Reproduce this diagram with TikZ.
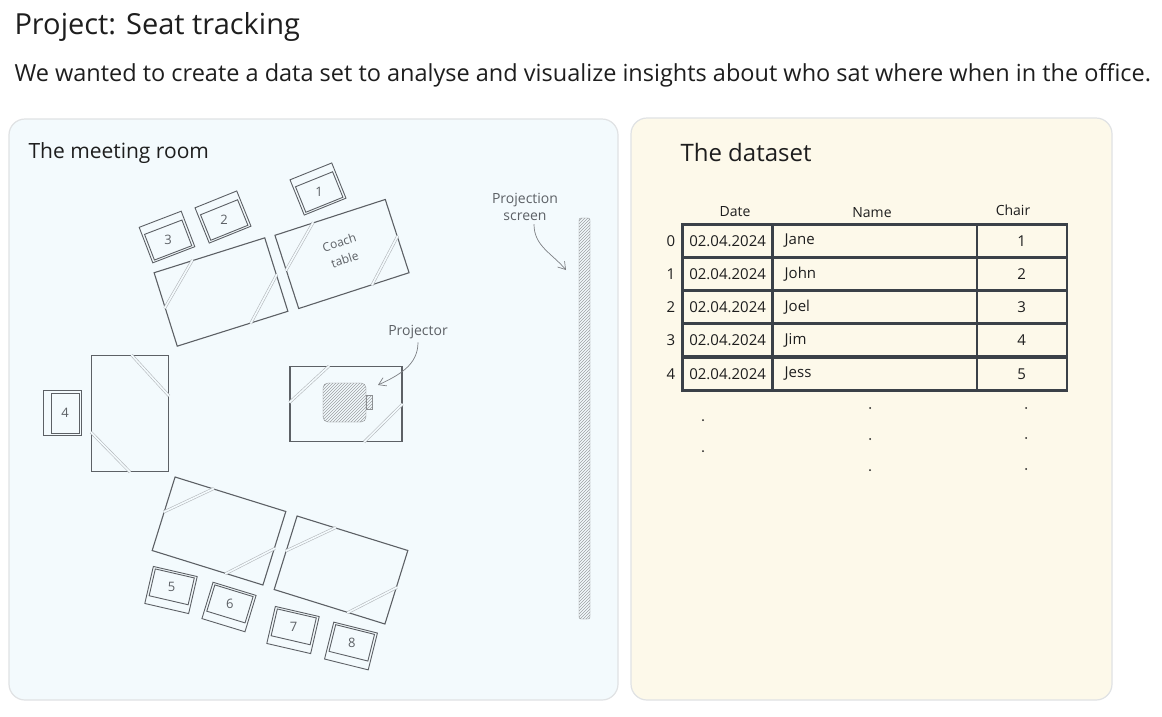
\documentclass[tikz,border=0pt]{standalone}
\usepackage{fontspec}
\setmainfont{Open Sans}
\usepackage{tikz}
\usetikzlibrary{shapes,arrows.meta,patterns,positioning,calc}
\definecolor{ink}{HTML}{1E1E1E}
\definecolor{pen}{HTML}{5C6065}
\definecolor{glass}{HTML}{B4B8BC}
\definecolor{roomfill}{HTML}{F3FAFD}
\definecolor{datafill}{HTML}{FDF9EA}
\definecolor{frame}{HTML}{E0E2E4}
\definecolor{grid}{HTML}{3B4148}

\begin{document}
\begin{tikzpicture}[x=1pt,y=-1pt]
	\tikzstyle{Panel}	= [draw=frame, line width=1.2pt, rounded corners=16pt]
	\tikzstyle{Table}	= [draw=pen, line width=1.1pt, minimum width=116pt, minimum height=77pt, inner sep=0pt]
	\tikzstyle{Glass}	= [draw=glass, double=roomfill, double distance=1.6pt, line width=0.6pt]
	\tikzstyle{Chair}	= [draw=pen, line width=0.9pt]
	\tikzstyle{Small}	= [font=\fontsize{14}{16}\selectfont, text=pen]
	\tikzstyle{Head}	= [font=\fontsize{21}{25}\selectfont, text=ink]
	\tikzstyle{Cell}	= [draw=grid, line width=2.4pt, minimum height=33pt, inner sep=0pt]
	\tikzstyle{Entry}	= [font=\fontsize{15}{17}\selectfont, text=ink]
	\tikzstyle{Hatch}	= [draw=pen!70, pattern=north east lines, pattern color=pen!60, inner sep=0pt]
	\tikzstyle{Pointer}	= [draw=pen!80, line width=0.7pt, -{Straight Barb[length=7pt,width=9pt]}]

	\fill[white] (0,0) rectangle (1162,716);
	\useasboundingbox (0,0) rectangle (1162,716);

	\node (title) at (11,27) [anchor=west, font=\fontsize{29}{33}\selectfont, text=ink] {Project: Seat tracking};
	\node (intro) at (11,75) [anchor=west, font=\fontsize{23.5}{27}\selectfont, text=ink] {We wanted to create a data set to analyse and visualize insights about who sat where when in the office.};

	\draw[Panel, fill=roomfill] (9,119) rectangle (618,700);
	\draw[Panel, fill=datafill] (631,118) rectangle (1112,700);
	\node (roomlbl) at (25,153) [Head, anchor=west] {The meeting room};
	\node (datalbl) at (677,152) [Head, anchor=west][font=\fontsize{24}{28}\selectfont] {The dataset};

	\foreach \n/\x/\y/\r in {A/221/292/17.5, B/342/254/18, E/219/531/-17.3, F/341/570/-17.3}
		\node (tab\n) at (\x,\y) [Table, rotate=\r] {};
	\node (tabC) at (130,413.5) [Table, rotate=-90] {};
	\node (tabD) at (346,404) [Table, minimum width=112pt, minimum height=75pt] {};
	\foreach \n in {A,B,C,D,E,F} {
		\draw[Glass] ($(tab\n.north west)!.35!(tab\n.north east)$) -- ($(tab\n.north west)!.48!(tab\n.south west)$);
		\draw[Glass] ($(tab\n.north east)!.5!(tab\n.south east)$) -- ($(tab\n.south west)!.66!(tab\n.south east)$);
	}
	\node (coach) at (342,251) [Small][rotate=18, align=center, font=\fontsize{12}{18}\selectfont] {Coach\\table};

	\foreach \n/\x/\y/\r in {1/318/189/22, 2/223/217/22, 3/167/237/21, 4/62/413/90, 5/171/590/167, 6/229/607/163, 7/293/630/167, 8/351/646/166} {
		\begin{scope}[shift={(\x,\y)}, rotate=\r]
			\draw[Chair] (-22.5,-19) rectangle (22.5,19);
			\draw[Chair] (-20,-10.5) rectangle (20,17);
			\node (seat\n) at (0,3) [Small][font=\fontsize{13}{15}\selectfont] {\n};
		\end{scope}
	}

	\node (projector) at (344.5,402.5) [Hatch, rounded corners=5pt, minimum width=43pt, minimum height=39pt] {};
	\node (lens) at (projector.east) [Hatch, anchor=west, minimum width=5.5pt, minimum height=14pt] {};
	\node (screen) at (584.5,418.5) [Hatch, rounded corners=2pt, minimum width=11pt, minimum height=401pt] {};

	\node (projlbl) at (418,332) [Small] {Projector};
	\node (screenlbl) at (525,207) [Small, align=center, font=\fontsize{14}{17}\selectfont] {Projection\\screen};
	\coordinate (projtip) at (378,385);
	\coordinate (screentip) at (566,270);
	\draw[Pointer] (projlbl.south) to[out=-90, in=25] (projtip);
	\draw[Pointer] ([xshift=9pt]screenlbl.south) to[out=-90, in=130] (screentip);

	\node (hdate) at (735,212) [Small][text=ink] {Date};
	\node (hname) at (872,213) [Small][text=ink] {Name};
	\node (hchair) at (1013,210) [Small][text=ink] {Chair};
	\foreach \i/\y/\nm/\ch in {0/241/Jane/1, 1/274/John/2, 2/307/Joel/3, 3/340/Jim/4, 4/374/Jess/5} {
		\node (row\i) at (671,\y) [Entry] {\i};
		\node (date\i) at (727.6,\y) [Cell, minimum width=90pt][Entry] {02.04.2024};
		\node (name\i) at (874.7,\y) [Cell, minimum width=204pt, text width=180pt, align=left][Entry] {\nm};
		\node (chair\i) at (1021.7,\y) [Cell, minimum width=90pt][Entry] {\ch};
	}
	\foreach \x/\y in {703/420, 703/451, 870/408, 870/439, 870/470, 1026/408, 1026/438, 1026/469}
		\fill[ink] (\x,\y) circle (1pt);
\end{tikzpicture}
\end{document}
